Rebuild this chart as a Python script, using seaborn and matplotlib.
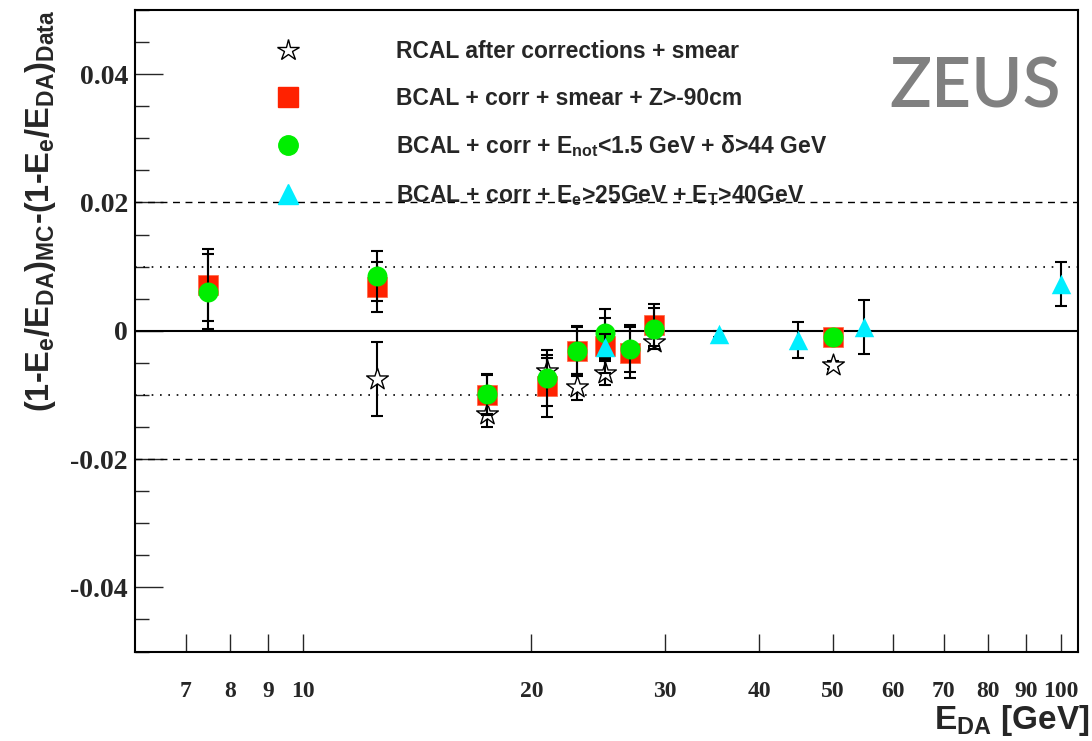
import numpy as np
import matplotlib
matplotlib.use("Agg")
import matplotlib.pyplot as plt
import seaborn as sns
from matplotlib.lines import Line2D
from matplotlib.ticker import FixedLocator, NullLocator, MultipleLocator, FixedFormatter

# ---------------- data ----------------
rcal_x = [12.5, 17.5, 21.0, 23.0, 25.0, 29.0, 50.0]
rcal_y = [-0.0075, -0.0129, -0.0063, -0.0088, -0.0066, -0.0017, -0.0053]
rcal_e = [0.0058, 0.0021, 0.0020, 0.0020, 0.0019, 0.0010, 0.0006]

bz_x = [7.5, 12.5, 17.5, 21.0, 23.0, 25.0, 27.0, 29.0, 50.0]
bz_y = [0.0071, 0.0068, -0.0100, -0.0086, -0.0031, -0.0023, -0.0034, 0.0009, -0.0010]
bz_e = [0.0056, 0.0039, 0.0031, 0.0048, 0.0039, 0.0043, 0.0040, 0.0032, 0.0007]

bn_x = [7.5, 12.5, 17.5, 21.0, 23.0, 25.0, 27.0, 29.0, 50.0]
bn_y = [0.0061, 0.0085, -0.0099, -0.0074, -0.0031, -0.0004, -0.0028, 0.0003, -0.0010]
bn_e = [0.0058, 0.0039, 0.0031, 0.0044, 0.0037, 0.0038, 0.0037, 0.0032, 0.0007]

be_x = [25.0, 35.4, 45.0, 55.0, 100.0]
be_y = [-0.0025, -0.0005, -0.0015, 0.0006, 0.0073]
be_e = [0.0020, 0.0004, 0.0028, 0.0042, 0.0034]

labels = ["RCAL after corrections + smear",
          "BCAL + corr + smear + Z>-90cm",
          "BCAL + corr + E$_{not}$<1.5 GeV + δ>44 GeV",
          "BCAL + corr + E$_e$>25GeV + E$_T$>40GeV"]

xticks = [7, 8, 9, 10, 20, 30, 40, 50, 60, 70, 80, 90, 100]
xticklabels = ["7", "8", "9", "10", "20", "30", "40", "50", "60", "70", "80", "90", "100"]
yticks = [-0.04, -0.02, 0, 0.02, 0.04]
yticklabels = ["-0.04", "-0.02", "0", "0.02", "0.04"]

# ---------------- style ----------------
sns.set_theme(style="ticks")
SANS = ["Liberation Sans", "DejaVu Sans"]
SERIF = ["Liberation Serif", "DejaVu Serif"]
plt.rcParams["font.family"] = SANS
plt.rcParams["mathtext.fontset"] = "custom"
plt.rcParams["mathtext.bf"] = "Liberation Sans:bold"
plt.rcParams["mathtext.rm"] = "Liberation Sans:bold"
plt.rcParams["mathtext.it"] = "Liberation Sans:bold"
plt.rcParams["mathtext.default"] = "bf"

fig = plt.figure(figsize=(10.92, 7.41), dpi=100)
ax = fig.add_axes([135 / 1092, 89.5 / 741, (1078 - 135) / 1092, (651.5 - 10) / 741])
ax.set_facecolor("white")

ax.set_xscale("log")
ax.set_xlim(6.0, 105.3)
ax.set_ylim(-0.05, 0.05)

# reference lines
ax.axhline(0, color="black", lw=1.5, zorder=1)
for v in (0.01, -0.01):
    ax.axhline(v, color="black", lw=1.2, ls=(0, (1, 4)), zorder=1)
for v in (0.02, -0.02):
    ax.axhline(v, color="black", lw=1.0, ls=(0, (5, 4)), zorder=1)

series = [
    (rcal_x, rcal_y, rcal_e, dict(marker="*", s=270, facecolor="white", edgecolor="black", linewidth=1.0)),
    (bz_x, bz_y, bz_e, dict(marker="s", s=225, color="#ff2200", edgecolor="#ff6644", linewidth=0.5)),
    (bn_x, bn_y, bn_e, dict(marker="o", s=207, color="#00ee00", edgecolor="#00ee00", linewidth=0)),
    (be_x, be_y, be_e, dict(marker="^", s=196, color="#00eeff", edgecolor="#00eeff", linewidth=0)),
]

for i, (x, y, e, kw) in enumerate(series):
    z = 2 + 2 * i
    ax.errorbar(x, y, yerr=e, fmt="none", ecolor="black", elinewidth=1.5,
                capsize=4.5, capthick=1.5, zorder=z)
    sns.scatterplot(x=x, y=y, ax=ax, zorder=z + 1, legend=False, **kw)

# ticks
ax.xaxis.set_major_locator(FixedLocator(xticks))
ax.xaxis.set_major_formatter(FixedFormatter(xticklabels))
ax.xaxis.set_minor_locator(NullLocator())
ax.yaxis.set_major_locator(FixedLocator(yticks))
ax.yaxis.set_major_formatter(FixedFormatter(yticklabels))
ax.yaxis.set_minor_locator(MultipleLocator(0.005))
ax.tick_params(axis="x", which="major", direction="in", length=13, width=1.0,
               pad=21.5, labelsize=17, top=False)
ax.tick_params(axis="y", which="major", direction="in", length=20, width=1.0,
               pad=5, labelsize=20, right=False)
ax.tick_params(axis="y", which="minor", direction="in", length=10, width=1.0, right=False)
for lab in ax.get_xticklabels() + ax.get_yticklabels():
    lab.set_family(SERIF)
    lab.set_fontweight("bold")
for sp in ax.spines.values():
    sp.set_linewidth(1.5)
    sp.set_color("black")
    sp.set_visible(True)

# axis titles
fig.text(41 / 1092, 1 - 10 / 741,
         "(1-E$_e$/E$_{DA}$)$_{MC}$-(1-E$_e$/E$_{DA}$)$_{Data}$",
         rotation=90, ha="center", va="top", fontsize=23.5, fontweight="bold")
fig.text(1090 / 1092, 12.5 / 741, "E$_{DA}$ [GeV]",
         ha="right", va="baseline", fontsize=24, fontweight="bold")

# ZEUS logo
fig.text(975.5 / 1092, 1 - 88 / 741, "ZEUS", ha="center", va="center",
         fontsize=50, fontweight="semibold", color="#808080", family=["Lato", "DejaVu Sans"])

# legend
handles = [
    Line2D([], [], ls="none", marker="*", markersize=16, markerfacecolor="white",
           markeredgecolor="black", markeredgewidth=1.0),
    Line2D([], [], ls="none", marker="s", markersize=14, color="#ff2200"),
    Line2D([], [], ls="none", marker="o", markersize=14, color="#00ee00"),
    Line2D([], [], ls="none", marker="^", markersize=14, color="#00eeff"),
]
fs = 16.5
fs_px = fs * 100 / 72
leg = ax.legend(handles, labels, loc="upper left",
                bbox_to_anchor=(278 / 1092, 1 - 40 / 741), bbox_transform=fig.transFigure,
                frameon=False, fontsize=fs, handlelength=20.8 / fs_px,
                handletextpad=(396.5 - 278 - 20.8) / fs_px,
                labelspacing=1.03, borderpad=0, borderaxespad=0)
for t in leg.get_texts():
    t.set_fontweight("bold")

fig.savefig("out.png", dpi=100)
